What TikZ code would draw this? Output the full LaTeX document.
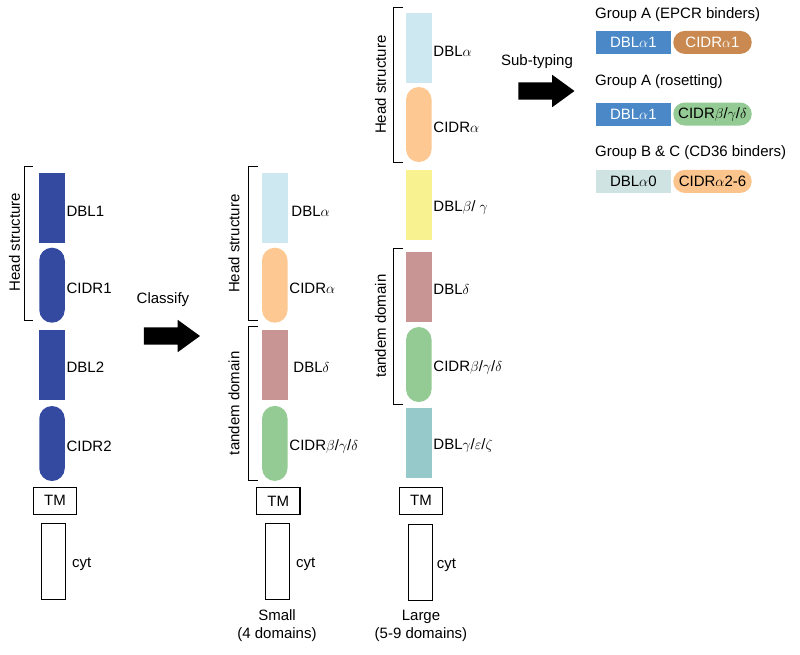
\documentclass[tikz,border=0pt]{standalone}
\usepackage{fontspec}
\setmainfont{Liberation Sans}
\usetikzlibrary{shapes.arrows}
\definecolor{pfblue}{HTML}{3449A0}
\definecolor{dblalpha}{HTML}{CDE8F0}
\definecolor{cidralpha}{HTML}{FDC891}
\definecolor{dbldelta}{HTML}{C99594}
\definecolor{cidrbgd}{HTML}{94CB94}
\definecolor{dblbg}{HTML}{F8F290}
\definecolor{dblgez}{HTML}{96CACA}
\definecolor{grpblue}{HTML}{4A88C8}
\definecolor{grpbrown}{HTML}{C98950}
\definecolor{dblzero}{HTML}{CFE3E3}
\definecolor{cidrtwo}{HTML}{FBC48C}
\tikzset{
  dombox/.style={minimum width=25.5pt, minimum height=70pt, inner sep=0pt, fill=#1},
  cidrbox/.style={minimum width=25.5pt, minimum height=75pt, inner sep=0pt, rounded corners=12.7pt, fill=#1},
  tmbox/.style={draw, line width=1.3pt, minimum width=43.5pt, minimum height=27pt, inner sep=0pt},
  cytbox/.style={draw, line width=1.3pt, minimum width=24pt, minimum height=76pt, inner sep=0pt},
  lbl/.style={anchor=west, inner sep=1.5pt, yshift=-3pt},
  brk/.style={line width=1pt},
  grpbox/.style={minimum width=74.5pt, minimum height=23pt, inner sep=0pt, fill=#1},
  grpcidr/.style={minimum width=78.5pt, minimum height=23pt, inner sep=0pt, rounded corners=11.5pt, fill=#1},
  bigarrow/.style={single arrow, fill=black, inner xsep=0pt, inner ysep=8.5pt,
    single arrow head extend=7.5pt, single arrow tip angle=72, minimum height=56pt},
}
\begin{document}
\begin{tikzpicture}[x=1pt,y=-1pt,font=\fontsize{15}{18}\selectfont]
\useasboundingbox (0,0) rectangle (800,654);
% Original PfEMP1 (left column)
\node[dombox=pfblue] (dbl1) at (52,208) {};
\node[cidrbox=pfblue] (cidr1) at (52,285.2) {};
\node[dombox=pfblue] (dbl2) at (52,364.7) {};
\node[cidrbox=pfblue] (cidr2) at (52,443.5) {};
\node[tmbox] (tm1) at (55,500.7) {TM};
\node[cytbox] (cyt1) at (53.7,561.3) {};
\node[lbl] at (dbl1.east) {DBL1};
\node[lbl] at (cidr1.east) {CIDR1};
\node[lbl] at (dbl2.east) {DBL2};
\node[lbl] at (cidr2.east) {CIDR2};
\node[lbl,xshift=4pt] at (cyt1.east) {cyt};
\draw[brk] (33,166) -- (24.3,166) -- (24.3,320.7) -- (33,320.7);
\node[rotate=90] at (14.5,242) {Head structure};
% Classify arrow
\node (classifyt) at (163,300) {Classify};
\node[bigarrow] (classify) at (166,336) {};
% Small (4 domains)
\node[dombox=dblalpha] (sdbla) at (274.8,208.3) {};
\node[cidrbox=cidralpha] (scidra) at (274.8,285.2) {};
\node[dombox=dbldelta] (sdbld) at (274.8,364.7) {};
\node[cidrbox=cidrbgd] (scidrb) at (274.8,443.4) {};
\node[tmbox] (stm) at (278.3,501) {TM};
\node[cytbox] (scyt) at (277.8,561.3) {};
\node[lbl,xshift=2pt] at (sdbla.east) {DBL$\alpha$};
\node[lbl] at (scidra.east) {CIDR$\alpha$};
\node[lbl,xshift=4pt] at (sdbld.east) {DBL$\delta$};
\node[lbl] at (scidrb.east) {CIDR$\beta$/$\gamma$/$\delta$};
\node[lbl,xshift=4pt] at (scyt.east) {cyt};
\draw[brk] (258,166.7) -- (248.3,166.7) -- (248.3,320.7) -- (258,320.7);
\draw[brk] (258,326.7) -- (248.3,326.7) -- (248.3,480) -- (258,480);
\node[rotate=90] at (234,243.7) {Head structure};
\node[rotate=90] at (234,403.3) {tandem domain};
\node[align=center] (small) at (277,626) {Small\\(4 domains)};
% Large (5-9 domains)
\node[dombox=dblalpha] (ldbla) at (418.8,48) {};
\node[cidrbox=cidralpha] (lcidra) at (418.8,124.5) {};
\node[dombox=dblbg] (ldblb) at (418.8,204.7) {};
\node[dombox=dbldelta] (ldbld) at (418.8,286.7) {};
\node[cidrbox=cidrbgd] (lcidrb) at (418.8,364.5) {};
\node[dombox=dblgez] (ldblg) at (418.8,442.8) {};
\node[tmbox] (ltm) at (421,500.8) {TM};
\node[cytbox] (lcyt) at (420.5,562.2) {};
\node[lbl] at (ldbla.east) {DBL$\alpha$};
\node[lbl] at (lcidra.east) {CIDR$\alpha$};
\node[lbl] at (ldblb.east) {DBL$\beta$/ $\gamma$};
\node[lbl] at (ldbld.east) {DBL$\delta$};
\node[lbl] at (lcidrb.east) {CIDR$\beta$/$\gamma$/$\delta$};
\node[lbl] at (ldblg.east) {DBL$\gamma$/$\varepsilon$/$\zeta$};
\node[lbl,xshift=2pt] at (lcyt.east) {cyt};
\draw[brk] (403,7.3) -- (393.3,7.3) -- (393.3,162.3) -- (403,162.3);
\draw[brk] (403,248.3) -- (393.3,248.3) -- (393.3,404) -- (403,404);
\node[rotate=90] at (380.5,84.8) {Head structure};
\node[rotate=90] at (380.5,326.2) {tandem domain};
\node[align=center] (large) at (421,626) {Large\\(5-9 domains)};
% Sub-typing arrow
\node (subtypet) at (537,62) {Sub-typing};
\node[bigarrow] (subtype) at (540.5,91) {};
% Groups
\node[anchor=west,inner sep=0pt] (grpa) at (595,15) {Group A (EPCR binders)};
\node[grpbox=grpblue,text=white] (adbl) at (633.3,42.4) {DBL$\alpha$1};
\node[grpcidr=grpbrown,text=white] (acidr) at (712.5,42.4) {CIDR$\alpha$1};
\node[anchor=west,inner sep=0pt] (grpr) at (595,82) {Group A (rosetting)};
\node[grpbox=grpblue,text=white] (rdbl) at (633.3,114) {DBL$\alpha$1};
\node[grpcidr=cidrbgd] (rcidr) at (712.5,114) {CIDR$\beta$/$\gamma$/$\delta$};
\node[anchor=west,inner sep=0pt] (grpbc) at (595,153) {Group B \& C (CD36 binders)};
\node[grpbox=dblzero] (bdbl) at (633.3,181.4) {DBL$\alpha$0};
\node[grpcidr=cidrtwo] (bcidr) at (712.5,181.4) {CIDR$\alpha$2-6};
\end{tikzpicture}
\end{document}
